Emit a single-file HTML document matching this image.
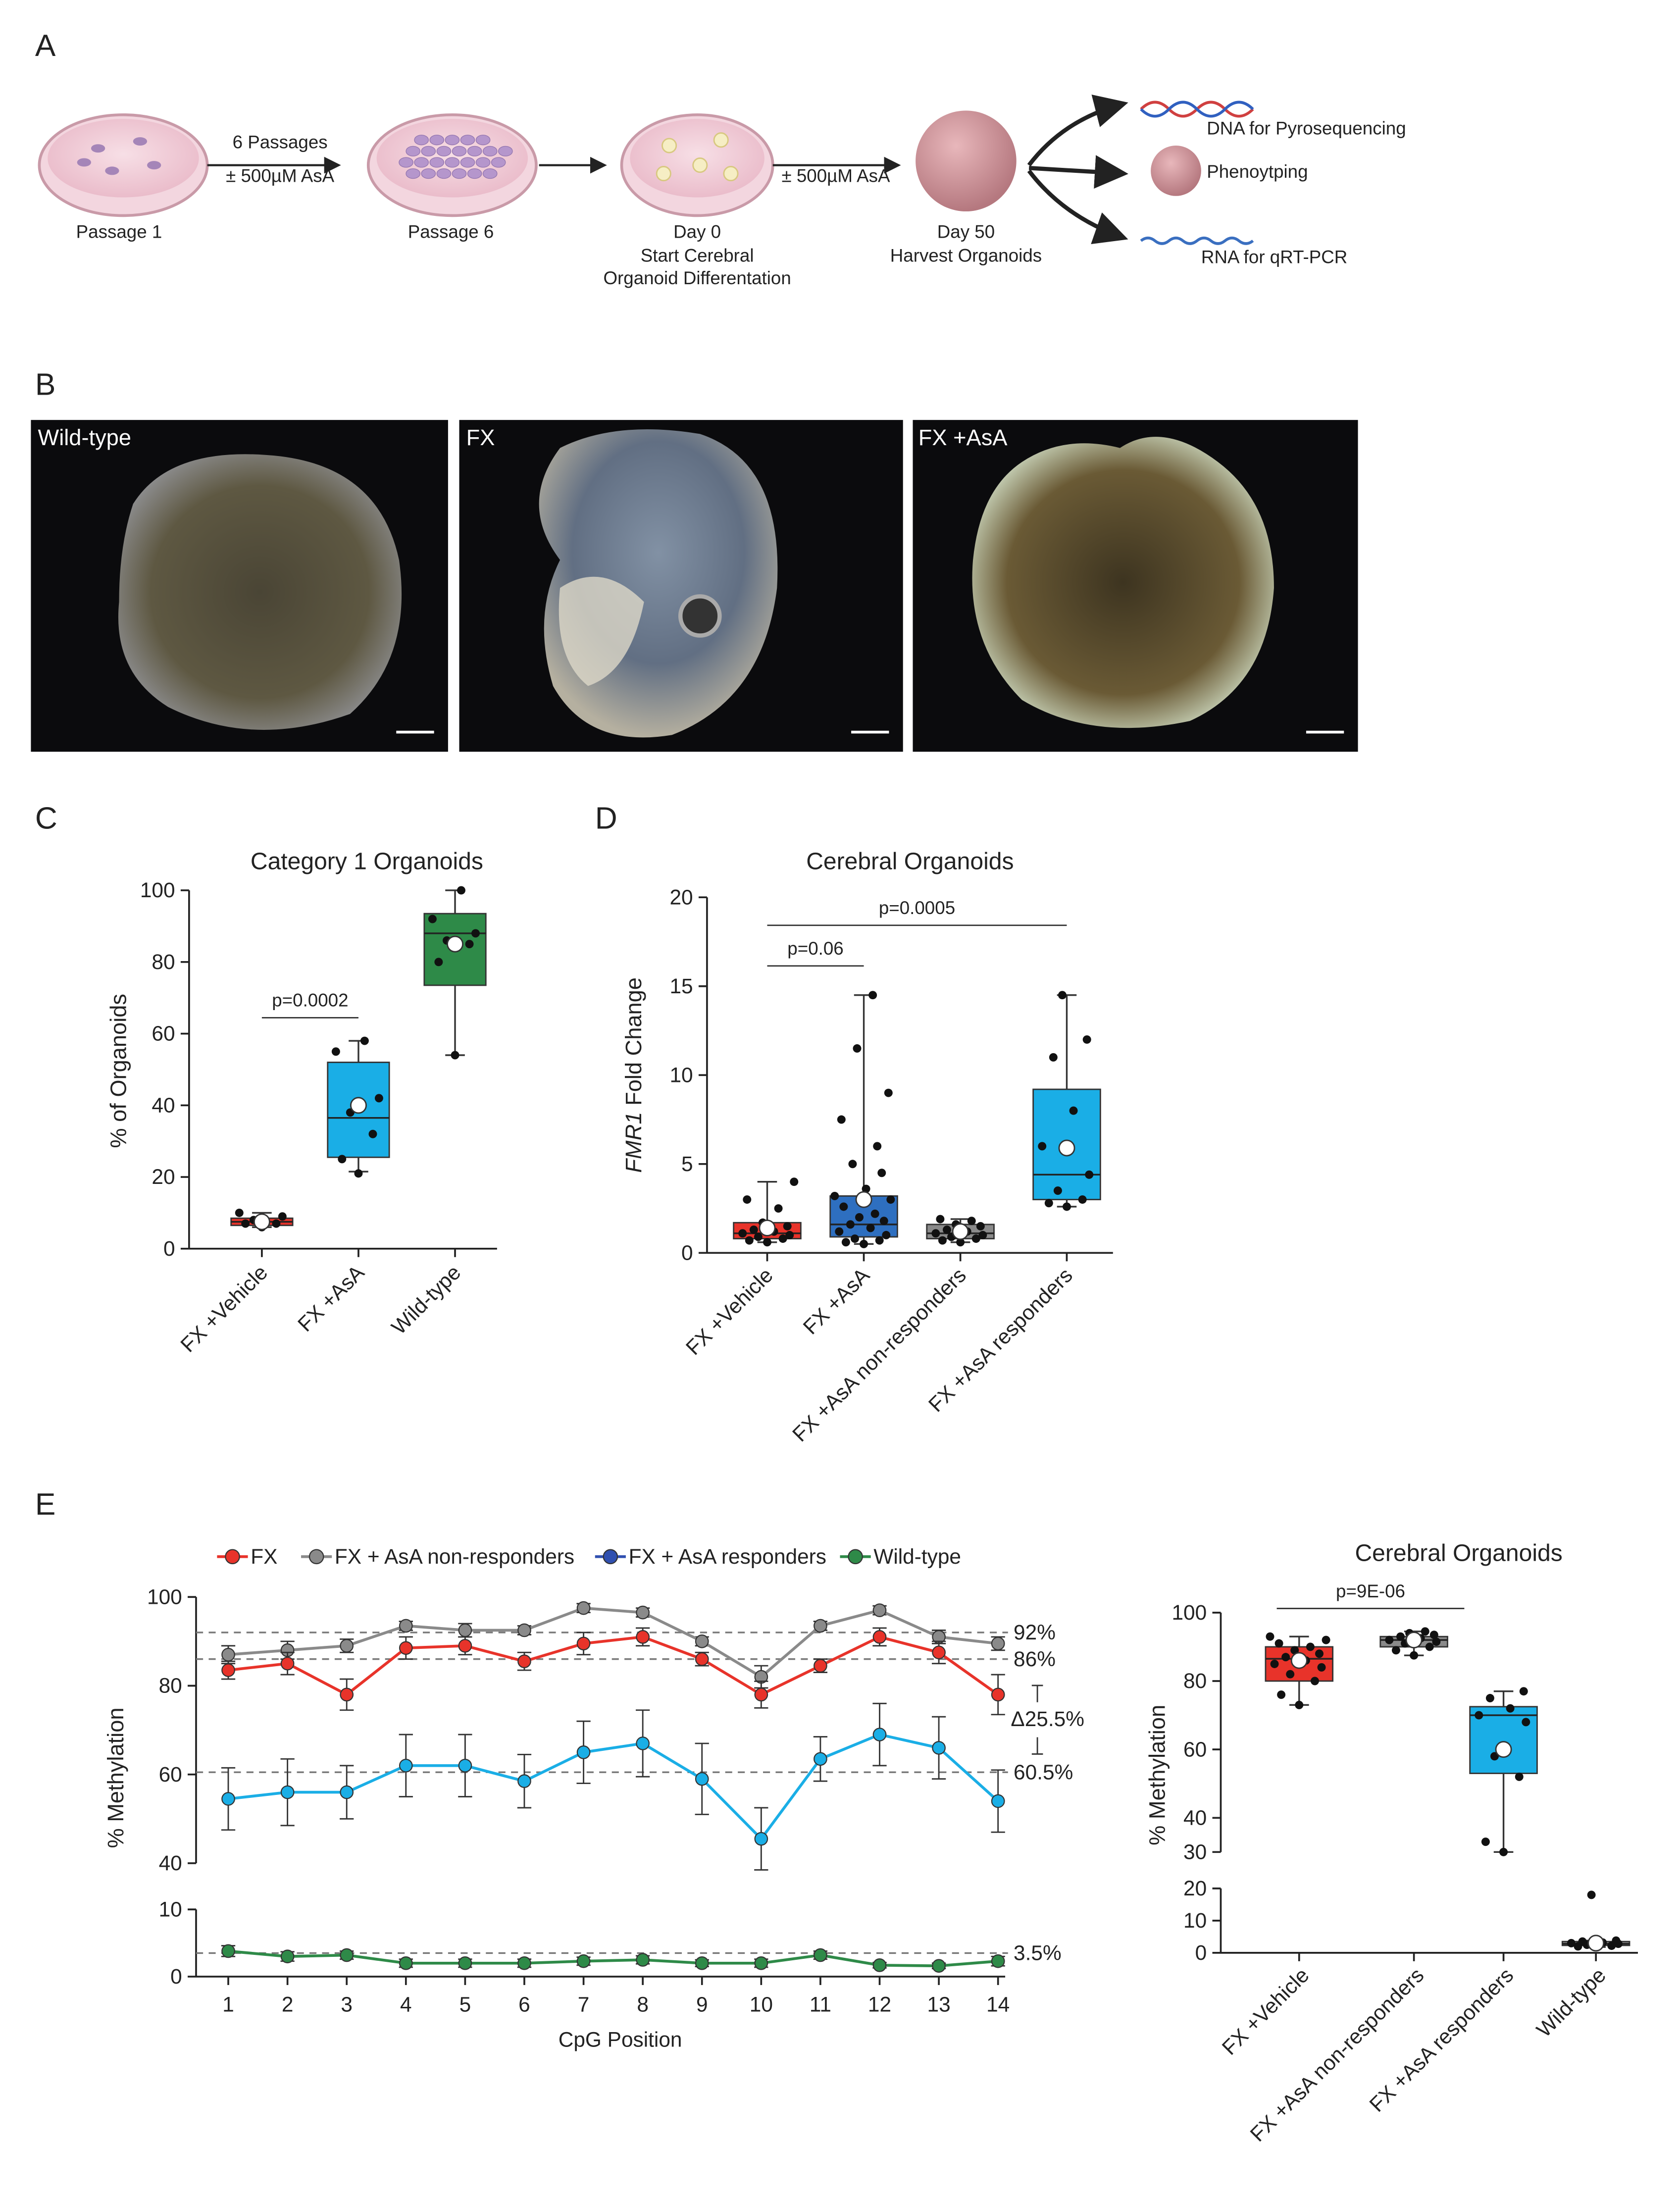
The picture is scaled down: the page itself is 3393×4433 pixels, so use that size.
<!DOCTYPE html>
<html><head><meta charset="utf-8">
<style>
html,body{margin:0;padding:0;background:#fff}
svg{display:block}
text{font-family:"Liberation Sans",Arial,sans-serif;fill:#222}
</style></head>
<body>
<svg id="fig" xmlns="http://www.w3.org/2000/svg" width="3393" height="4433" viewBox="0 0 1200 1568">
<defs>
<radialGradient id="dish" cx="50%" cy="45%" r="60%"><stop offset="0" stop-color="#f7dfe6"/><stop offset="1" stop-color="#e9b9c8"/></radialGradient>
<radialGradient id="org" cx="40%" cy="35%" r="65%"><stop offset="0" stop-color="#e8b7bb"/><stop offset="1" stop-color="#b5787f"/></radialGradient>
<radialGradient id="wt" cx="50%" cy="50%" r="55%"><stop offset="0" stop-color="#4a4535"/><stop offset="0.7" stop-color="#5e5842"/><stop offset="1" stop-color="#8a8a8a"/></radialGradient>
<radialGradient id="fx" cx="50%" cy="40%" r="60%"><stop offset="0" stop-color="#8fa0b5"/><stop offset="0.6" stop-color="#6b7a90"/><stop offset="1" stop-color="#c8c2b0"/></radialGradient>
<radialGradient id="fxa" cx="50%" cy="50%" r="55%"><stop offset="0" stop-color="#3d3420"/><stop offset="0.7" stop-color="#6a5a35"/><stop offset="1" stop-color="#c8d2b8"/></radialGradient>
<marker id="ah" markerWidth="8" markerHeight="8" refX="7" refY="4" orient="auto"><path d="M0,0L8,4L0,8z" fill="#222"/></marker>
</defs>

<g>
<text x="25" y="40" font-size="22">A</text>
<g>
<ellipse cx="88" cy="118" rx="60" ry="36" fill="#f3d6df" stroke="#c99aa8" stroke-width="2"/>
<ellipse cx="88" cy="113" rx="54" ry="28" fill="url(#dish)"/>
<ellipse cx="70" cy="106" rx="5" ry="3" fill="#a585b8"/><ellipse cx="100" cy="101" rx="5" ry="3" fill="#a585b8"/><ellipse cx="110" cy="118" rx="5" ry="3" fill="#a585b8"/><ellipse cx="80" cy="122" rx="5" ry="3" fill="#a585b8"/><ellipse cx="60" cy="116" rx="5" ry="3" fill="#a585b8"/>
</g>
<text x="85" y="170" font-size="13" text-anchor="middle">Passage 1</text>
<line x1="148" y1="118" x2="242" y2="118" stroke="#222" stroke-width="1.5" marker-end="url(#ah)"/>
<text x="200" y="106" font-size="13" text-anchor="middle">6 Passages</text>
<text x="200" y="130" font-size="13" text-anchor="middle">± 500µM AsA</text>
<g>
<ellipse cx="323" cy="118" rx="60" ry="36" fill="#f3d6df" stroke="#c99aa8" stroke-width="2"/>
<ellipse cx="323" cy="113" rx="54" ry="28" fill="url(#dish)"/>
<g fill="#b596cc" id="cells6"></g>
</g>
<text x="322" y="170" font-size="13" text-anchor="middle">Passage 6</text>
<line x1="385" y1="118" x2="432" y2="118" stroke="#222" stroke-width="1.5" marker-end="url(#ah)"/>
<g>
<ellipse cx="498" cy="118" rx="54" ry="36" fill="#f3d6df" stroke="#c99aa8" stroke-width="2"/>
<ellipse cx="498" cy="113" rx="48" ry="28" fill="url(#dish)"/>
<circle cx="478" cy="104" r="5" fill="#f6eec4" stroke="#d8c880"/><circle cx="515" cy="100" r="5" fill="#f6eec4" stroke="#d8c880"/><circle cx="500" cy="118" r="5" fill="#f6eec4" stroke="#d8c880"/><circle cx="522" cy="124" r="5" fill="#f6eec4" stroke="#d8c880"/><circle cx="474" cy="124" r="5" fill="#f6eec4" stroke="#d8c880"/>
</g>
<text x="498" y="170" font-size="13" text-anchor="middle">Day 0</text>
<text x="498" y="187" font-size="13" text-anchor="middle">Start Cerebral</text>
<text x="498" y="203" font-size="13" text-anchor="middle">Organoid Differentation</text>
<line x1="552" y1="118" x2="642" y2="118" stroke="#222" stroke-width="1.5" marker-end="url(#ah)"/>
<text x="597" y="130" font-size="13" text-anchor="middle">± 500µM AsA</text>
<circle cx="690" cy="115" r="36" fill="url(#org)"/>
<text x="690" y="170" font-size="13" text-anchor="middle">Day 50</text>
<text x="690" y="187" font-size="13" text-anchor="middle">Harvest Organoids</text>
<path d="M735,118 Q760,85 803,74" fill="none" stroke="#222" stroke-width="3" marker-end="url(#ah)"/>
<line x1="735" y1="120" x2="803" y2="124" stroke="#222" stroke-width="3" marker-end="url(#ah)"/>
<path d="M735,122 Q760,155 803,170" fill="none" stroke="#222" stroke-width="3" marker-end="url(#ah)"/>
<path d="M815,78 q10,-10 20,0 t20,0 t20,0 t20,0" fill="none" stroke="#d04040" stroke-width="2"/>
<path d="M815,78 q10,10 20,0 t20,0 t20,0 t20,0" fill="none" stroke="#3060c0" stroke-width="2"/>
<text x="862" y="96" font-size="13">DNA for Pyrosequencing</text>
<circle cx="840" cy="122" r="18" fill="url(#org)"/>
<text x="862" y="127" font-size="13">Phenoytping</text>
<path d="M815,172 q5,-4 10,0 t10,0 t10,0 t10,0 t10,0 t10,0 t10,0 t10,0" fill="none" stroke="#3a6fc0" stroke-width="2"/>
<text x="858" y="188" font-size="13">RNA for qRT-PCR</text>
</g>

<g>
<text x="25" y="282" font-size="22">B</text>
<g>
<rect x="22" y="300" width="298" height="237" fill="#0b0b0d"/>
<path d="M95,360 Q120,320 190,325 Q270,330 285,400 Q295,470 250,510 Q180,535 120,505 Q80,480 85,430 Q85,390 95,360z" fill="url(#wt)"/>
<text x="27" y="318" font-size="16" style="fill:#fff">Wild-type</text>
<line x1="283" y1="523" x2="310" y2="523" stroke="#fff" stroke-width="2"/>
</g>
<g>
<rect x="328" y="300" width="317" height="237" fill="#0b0b0d"/>
<path d="M400,320 Q440,300 500,310 Q560,330 555,420 Q545,500 480,525 Q420,535 395,490 Q380,440 400,400 Q370,360 400,320z" fill="url(#fx)" opacity="0.9"/>
<path d="M400,420 Q430,400 460,430 Q450,480 420,490 Q395,470 400,420z" fill="#ddd8c8" opacity="0.8"/>
<circle cx="500" cy="440" r="14" fill="#333" stroke="#aaa" stroke-width="3"/>
<text x="333" y="318" font-size="16" style="fill:#fff">FX</text>
<line x1="608" y1="523" x2="635" y2="523" stroke="#fff" stroke-width="2"/>
</g>
<g>
<rect x="652" y="300" width="318" height="237" fill="#0b0b0d"/>
<path d="M730,330 Q760,310 800,320 Q830,300 870,330 Q910,360 910,420 Q905,490 850,515 Q780,530 730,500 Q690,460 695,400 Q700,350 730,330z" fill="url(#fxa)"/>
<text x="656" y="318" font-size="16" style="fill:#fff">FX +AsA</text>
<line x1="933" y1="523" x2="960" y2="523" stroke="#fff" stroke-width="2"/>
</g>
</g>

<text x="25" y="592" font-size="22">C</text>
<text x="425" y="592" font-size="22">D</text>
<text x="25" y="1082" font-size="22">E</text>
<g id="charts"></g>
</svg>

<script>
// ===== Panel C data =====
const cCategories = ["FX +Vehicle","FX +AsA","Wild-type"];
const cMin = [6, 21.5, 54];
const cQ1 = [6.5, 25.5, 73.5];
const cMedian = [7.5, 36.5, 88];
const cQ3 = [8.5, 52, 93.5];
const cMax = [10, 58, 100];
const cMean = [7.5, 40, 85];
const cPoints = [[6,7,7,8,9,10],[21,25,32,38,42,55,58],[54,80,85,86,88,92,100]];
const cTicks = [0,20,40,60,80,100];

// ===== Panel D data =====
const dCategories = ["FX +Vehicle","FX +AsA","FX +AsA non-responders","FX +AsA responders"];
const dMin = [0.6, 0.5, 0.6, 2.6];
const dQ1 = [0.8, 0.9, 0.8, 3.0];
const dMedian = [1.1, 1.6, 1.1, 4.4];
const dQ3 = [1.7, 3.2, 1.6, 9.2];
const dMax = [4.0, 14.5, 1.9, 14.5];
const dMean = [1.4, 3.0, 1.2, 5.9];
const dPoints = [
 [0.6,0.7,0.8,0.9,1.0,1.1,1.2,1.3,1.5,1.7,2.5,3.0,4.0],
 [0.5,0.6,0.7,0.8,1.0,1.2,1.4,1.6,1.8,2.0,2.2,2.6,3.0,3.2,3.6,4.5,5.0,6.0,7.5,9.0,11.5,14.5],
 [0.6,0.7,0.8,0.9,1.0,1.1,1.2,1.3,1.5,1.6,1.8,1.9],
 [2.6,2.8,3.0,3.5,4.4,6.0,8.0,11.0,12.0,14.5]
];
const dTicks = [0,5,10,15,20];

// ===== Panel E line chart data =====
const ePositions = [1,2,3,4,5,6,7,8,9,10,11,12,13,14];
const eNonResp = [87,88,89,93.5,92.5,92.5,97.5,96.5,90,82,93.5,97,91,89.5];
const eNonRespErr = [2,2,1.5,1,1.5,1,1,1,1,2.5,1,1,1.5,1.5];
const eFX = [83.5,85,78,88.5,89,85.5,89.5,91,86,78,84.5,91,87.5,78];
const eFXErr = [2,2.5,3.5,2.5,2,2,2.5,2,1.5,3,1.5,2,2.5,4.5];
const eResp = [54.5,56,56,62,62,58.5,65,67,59,45.5,63.5,69,66,54];
const eRespErr = [7,7.5,6,7,7,6,7,7.5,8,7,5,7,7,7];
const eWT = [3.8,3,3.2,2,2,2,2.3,2.5,2,2,3.2,1.7,1.6,2.3];
const eWTErr = [0.8,0.7,0.6,0.6,0.6,0.6,0.6,0.6,0.5,0.6,0.6,0.4,0.4,0.7];
const eRefValues = [92,86,60.5,3.5];
const eRefLabels = ["92%","86%","60.5%","3.5%"];
const eUpperTicks = [40,60,80,100];
const eLowerTicks = [0,10];

// ===== Panel E box plot data =====
const fCategories = ["FX +Vehicle","FX +AsA non-responders","FX +AsA responders","Wild-type"];
const fMin = [73, 87.5, 29, 1.8];
const fQ1 = [80, 90, 53, 2.3];
const fMedian = [86.5, 92, 70, 2.8];
const fQ3 = [90, 93, 72.5, 3.5];
const fMax = [93, 94.5, 77, 3.8];
const fMean = [86, 92, 60, 3];
const fPoints = [
 [73,76,80,82,84,85,86,87,88,89,90,91,92,93],
 [87.5,89,90,91,91.5,92,92.5,93,93.5,94,94.5],
 [29,33,52,58,68,70,72,75,77],
 [1.8,2,2.2,2.5,2.8,3,3.2,3.5,3.8,18]
];
const fUpperTicks = [30,40,60,80,100];
const fLowerTicks = [0,10,20];

const NS = "http://www.w3.org/2000/svg";
const root = document.getElementById('charts');
function mk(tag, attrs, parent, txt){
  const e = document.createElementNS(NS, tag);
  for (const k in attrs) e.setAttribute(k, attrs[k]);
  if (txt !== undefined) e.textContent = txt;
  (parent || root).appendChild(e);
  return e;
}
function grp(name){
  const g = mk('g', {});
  
  
  return g;
}

(function(){
  const g = document.getElementById('cells6');
  for (let r=0;r<4;r++) for (let c=0;c<7;c++){
    const x = 290 + c*11 + (r%2)*5, y = 100 + r*8;
    if (Math.abs(x-323)/52 + Math.abs(y-113)/26 > 1.1) continue;
    mk('ellipse', {cx:x, cy:y, rx:5, ry:3.5, fill:'#b596cc', stroke:'#9577b0', 'stroke-width':0.5}, g);
  }
})();

const jit = [0,-8,7,-4,10,-11,3,-6,9,-2,5,-9,12,-13,1,8,-5,6,-10,11,-3,4];

function drawBox(g, cx, w, mn, q1, med, q3, mx, mean, pts, color, yf){
  mk('line', {x1:cx, x2:cx, y1:yf(mn), y2:yf(q1), stroke:'#333', 'stroke-width':1.2}, g);
  mk('line', {x1:cx, x2:cx, y1:yf(q3), y2:yf(mx), stroke:'#333', 'stroke-width':1.2}, g);
  mk('line', {x1:cx-7, x2:cx+7, y1:yf(mn), y2:yf(mn), stroke:'#333', 'stroke-width':1.2}, g);
  mk('line', {x1:cx-7, x2:cx+7, y1:yf(mx), y2:yf(mx), stroke:'#333', 'stroke-width':1.2}, g);
  const b = mk('rect', {x:cx-w/2, y:yf(q3), width:w, height:Math.max(1, yf(q1)-yf(q3)), fill:color, stroke:'#333', 'stroke-width':1}, g);
  
  
  mk('line', {x1:cx-w/2, x2:cx+w/2, y1:yf(med), y2:yf(med), stroke:'#222', 'stroke-width':1.2}, g);
  pts.forEach((v,i)=>{
    const p = mk('circle', {cx:cx + jit[i%jit.length]*w/30, cy:yf(v), r:3, fill:'#111'}, g);
    
    
  });
  const m = mk('circle', {cx:cx, cy:yf(mean), r:5.5, fill:'#fff', stroke:'#333', 'stroke-width':1}, g);
  
  
}
function yAxis(g, x, ticks, yf, fs){
  mk('line', {x1:x, x2:x, y1:yf(ticks[ticks.length-1]), y2:yf(ticks[0]), stroke:'#222', 'stroke-width':1.3}, g);
  ticks.forEach(t=>{
    mk('line', {x1:x-6, x2:x, y1:yf(t), y2:yf(t), stroke:'#222', 'stroke-width':1.3}, g);
    const l = mk('text', {x:x-10, y:yf(t)+5, 'font-size':fs||15, 'text-anchor':'end'}, g, t);
    
    
  });
}
function rotLabel(g, x, y, txt){
  const t = mk('text', {x:x, y:y, 'font-size':15, 'text-anchor':'end', transform:`rotate(-45 ${x} ${y})`}, g, txt);
  
  
}
function bracket(g, x1, x2, y, label){
  mk('line', {x1:x1, x2:x2, y1:y, y2:y, stroke:'#333', 'stroke-width':1}, g);
  const t = mk('text', {x:(x1+x2)/2, y:y-8, 'font-size':13, 'text-anchor':'middle'}, g, label);
  
  
}

// Panel C
(function(){
  const g = grp('panel-c-chart');
  const yf = v => 892 - v*2.56;
  const xs = [187, 256, 325];
  const colors = ['#e8332a', '#1aaee6', '#2e8a48'];
  const t = mk('text', {x:262, y:621, 'font-size':17, 'text-anchor':'middle'}, g, 'Category 1 Organoids');
  
  
  yAxis(g, 135, cTicks, yf);
  mk('line', {x1:135, x2:355, y1:892, y2:892, stroke:'#222', 'stroke-width':1.3}, g);
  const yt = mk('text', {x:90, y:765, 'font-size':16, 'text-anchor':'middle', transform:'rotate(-90 90 765)'}, g, '% of Organoids');
  
  
  cCategories.forEach((c,i)=>{
    mk('line', {x1:xs[i], x2:xs[i], y1:892, y2:898, stroke:'#222', 'stroke-width':1.3}, g);
    drawBox(g, xs[i], 44, cMin[i], cQ1[i], cMedian[i], cQ3[i], cMax[i], cMean[i], cPoints[i], colors[i], yf);
    rotLabel(g, xs[i]+5, 910, c);
  });
  bracket(g, xs[0], xs[1], 727, 'p=0.0002');
})();

// Panel D
(function(){
  const g = grp('panel-d-chart');
  const yf = v => 895 - v*12.7;
  const xs = [548, 617, 686, 762];
  const colors = ['#e8332a', '#2e6fc0', '#8a8a8a', '#1aaee6'];
  const t = mk('text', {x:650, y:621, 'font-size':17, 'text-anchor':'middle'}, g, 'Cerebral Organoids');
  
  
  yAxis(g, 505, dTicks, yf);
  mk('line', {x1:505, x2:795, y1:895, y2:895, stroke:'#222', 'stroke-width':1.3}, g);
  const yt = mk('text', {x:458, y:768, 'font-size':16, 'text-anchor':'middle', transform:'rotate(-90 458 768)'}, g);
  
  
  mk('tspan', {'font-style':'italic'}, yt, 'FMR1');
  mk('tspan', {}, yt, ' Fold Change');
  dCategories.forEach((c,i)=>{
    mk('line', {x1:xs[i], x2:xs[i], y1:895, y2:901, stroke:'#222', 'stroke-width':1.3}, g);
    drawBox(g, xs[i], 48, dMin[i], dQ1[i], dMedian[i], dQ3[i], dMax[i], dMean[i], dPoints[i], colors[i], yf);
    rotLabel(g, xs[i]+5, 912, c);
  });
  bracket(g, xs[0], xs[1], 690, 'p=0.06');
  bracket(g, xs[0], xs[3], 661, 'p=0.0005');
})();

// Panel E line chart
(function(){
  const g = grp('panel-e-line-chart');
  const xf = p => 163 + (p-1)*42.3;
  const yU = v => 1331 - (v-40)*3.17;
  const yL = v => 1412 - v*4.8;
  const yf = v => v >= 30 ? yU(v) : yL(v);
  const leg = [['FX','#e8332a'],['FX + AsA non-responders','#8a8a8a'],['FX + AsA responders','#3050b0'],['Wild-type','#2e8a48']];
  const lx = [155, 215, 425, 600];
  leg.forEach((l,i)=>{
    const e = grp('legend-entry');
    mk('line', {x1:lx[i], x2:lx[i]+22, y1:1112, y2:1112, stroke:l[1], 'stroke-width':2}, e);
    mk('circle', {cx:lx[i]+11, cy:1112, r:5, fill:l[1], stroke:'#333', 'stroke-width':0.8}, e);
    mk('text', {x:lx[i]+24, y:1117, 'font-size':15}, e, l[0]);
  });
  yAxis(g, 140, eUpperTicks, yU);
  yAxis(g, 140, eLowerTicks, yL);
  mk('line', {x1:140, x2:718, y1:1412, y2:1412, stroke:'#222', 'stroke-width':1.3}, g);
  ePositions.forEach(p=>{
    mk('line', {x1:xf(p), x2:xf(p), y1:1412, y2:1418, stroke:'#222', 'stroke-width':1.3}, g);
    const t = mk('text', {x:xf(p), y:1437, 'font-size':15, 'text-anchor':'middle'}, g, p);
    
    
  });
  const xt = mk('text', {x:443, y:1462, 'font-size':15, 'text-anchor':'middle'}, g, 'CpG Position');
  
  
  const yt = mk('text', {x:88, y:1270, 'font-size':16, 'text-anchor':'middle', transform:'rotate(-90 88 1270)'}, g, '% Methylation');
  
  
  eRefValues.forEach((v,i)=>{
    const y = yf(v);
    mk('line', {x1:140, x2:720, y1:y, y2:y, stroke:'#777', 'stroke-width':1.2, 'stroke-dasharray':'5,4'}, g);
    const t = mk('text', {x:724, y:y+5, 'font-size':15}, g, eRefLabels[i]);
    
    
  });
  const dt = mk('text', {x:722, y:1233, 'font-size':15}, g, 'Δ25.5%');
  
  
  mk('line', {x1:741, x2:741, y1:1204, y2:1216, stroke:'#333'}, g);
  mk('line', {x1:737, x2:745, y1:1204, y2:1204, stroke:'#333'}, g);
  mk('line', {x1:741, x2:741, y1:1241, y2:1253, stroke:'#333'}, g);
  mk('line', {x1:737, x2:745, y1:1253, y2:1253, stroke:'#333'}, g);
  const series = [[eNonResp,eNonRespErr,'#8a8a8a','series-non-responders'],[eFX,eFXErr,'#e8332a','series-fx'],[eResp,eRespErr,'#1aaee6','series-responders'],[eWT,eWTErr,'#2e8a48','series-wild-type']];
  series.forEach(s=>{
    const sg = grp(s[3]);
    s[0].forEach((v,i)=>{
      const x = xf(ePositions[i]);
      const y1 = yf(v+s[1][i]), y2 = yf(v-s[1][i]);
      mk('line', {x1:x, x2:x, y1:y1, y2:y2, stroke:'#333', 'stroke-width':1}, sg);
      mk('line', {x1:x-5, x2:x+5, y1:y1, y2:y1, stroke:'#333', 'stroke-width':1}, sg);
      mk('line', {x1:x-5, x2:x+5, y1:y2, y2:y2, stroke:'#333', 'stroke-width':1}, sg);
    });
    const d = s[0].map((v,i)=>(i?'L':'M')+xf(ePositions[i])+','+yf(v)).join('');
    mk('path', {d:d, fill:'none', stroke:s[2], 'stroke-width':2}, sg);
    s[0].forEach((v,i)=>{
      const c = mk('circle', {cx:xf(ePositions[i]), cy:yf(v), r:4.5, fill:s[2], stroke:'#333', 'stroke-width':0.8}, sg);
      
      
    });
  });
})();

// Panel E box chart
(function(){
  const g = grp('panel-e-box-chart');
  const yU = v => 1323 - (v-30)*2.443;
  const yL = v => 1395 - v*2.3;
  const yf = v => v >= 25 ? yU(Math.max(v,30)) : yL(v);
  const xs = [928, 1010, 1074, 1140];
  const colors = ['#e8332a', '#8a8a8a', '#1aaee6', '#8a8a8a'];
  const t = mk('text', {x:1042, y:1115, 'font-size':17, 'text-anchor':'middle'}, g, 'Cerebral Organoids');
  
  
  yAxis(g, 872, fUpperTicks, yU);
  yAxis(g, 872, fLowerTicks, yL);
  mk('line', {x1:872, x2:1170, y1:1395, y2:1395, stroke:'#222', 'stroke-width':1.3}, g);
  const yt = mk('text', {x:832, y:1268, 'font-size':16, 'text-anchor':'middle', transform:'rotate(-90 832 1268)'}, g, '% Methylation');
  
  
  fCategories.forEach((c,i)=>{
    mk('line', {x1:xs[i], x2:xs[i], y1:1395, y2:1401, stroke:'#222', 'stroke-width':1.3}, g);
    drawBox(g, xs[i], 48, fMin[i], fQ1[i], fMedian[i], fQ3[i], fMax[i], fMean[i], fPoints[i], colors[i], yf);
    rotLabel(g, xs[i]+8, 1412, c);
  });
  bracket(g, 912, 1046, 1149, 'p=9E-06');
})();
</script>
</body></html>
